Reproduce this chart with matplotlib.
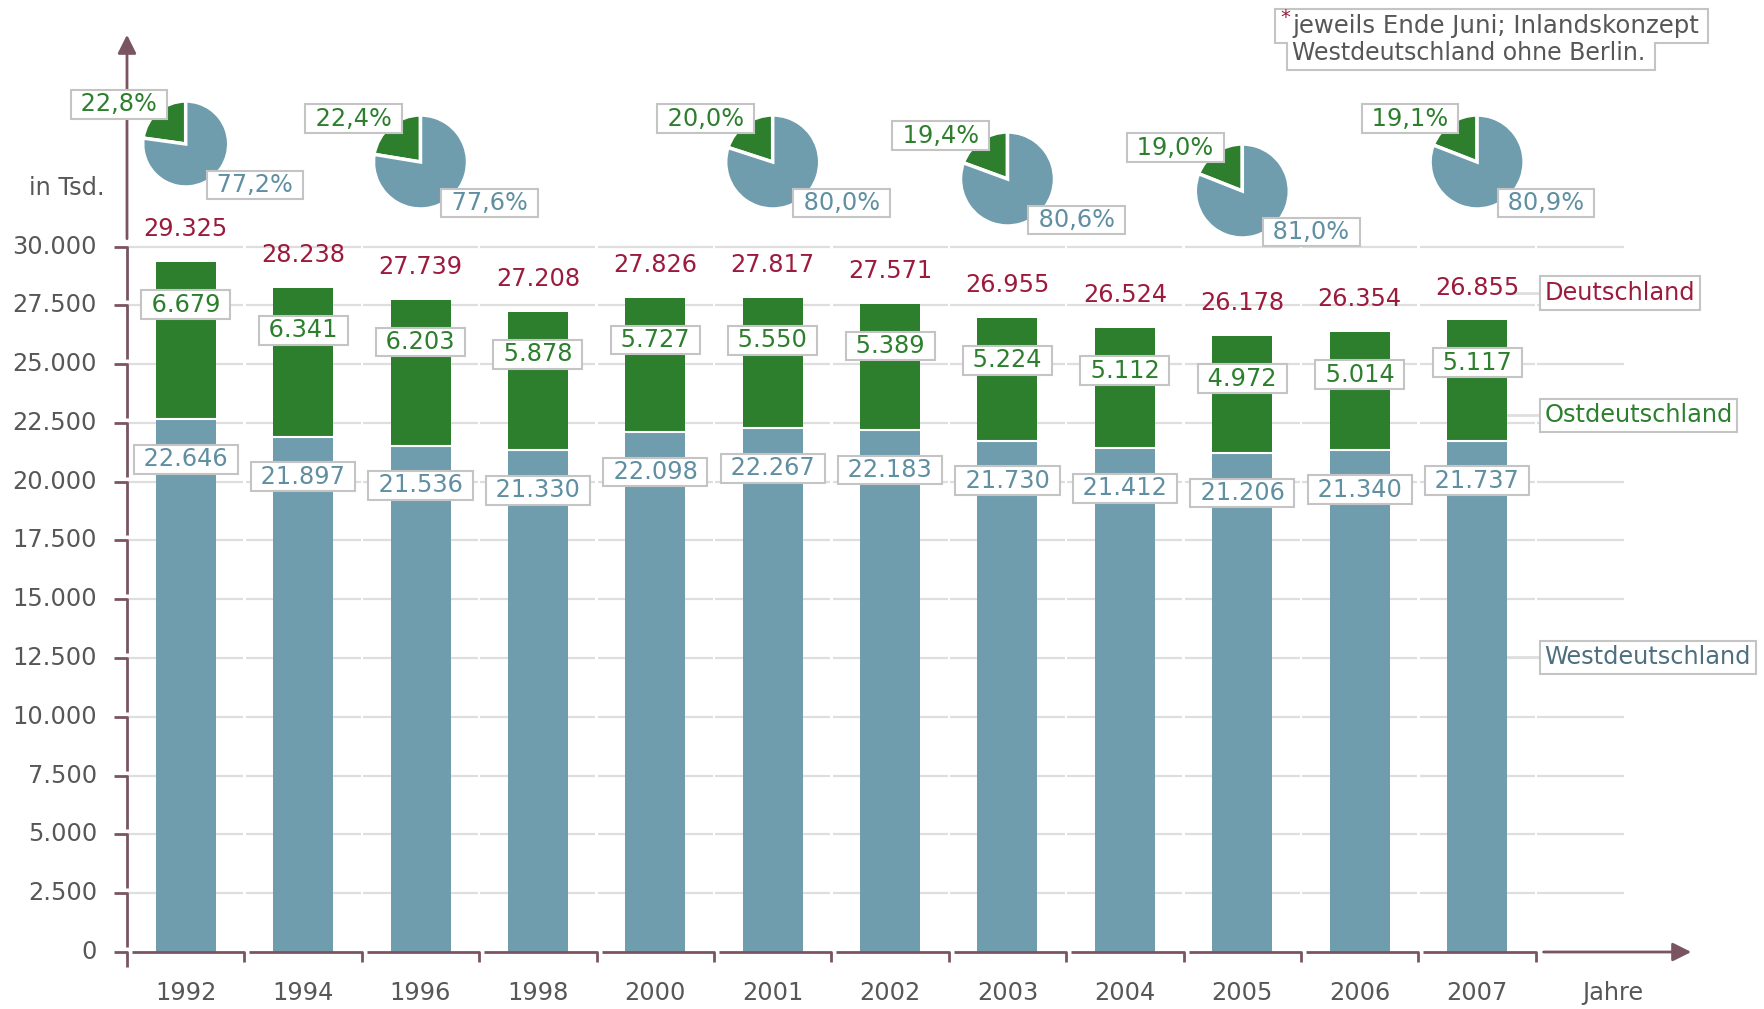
import matplotlib
matplotlib.use("Agg")
from matplotlib import pyplot as plt
from matplotlib.patches import Polygon

# --- data ---
years = ['1992', '1994', '1996', '1998', '2000', '2001',
         '2002', '2003', '2004', '2005', '2006', '2007']
west = [22646, 21897, 21536, 21330, 22098, 22267, 22183, 21730, 21412, 21206, 21340, 21737]
east = [6679, 6341, 6203, 5878, 5727, 5550, 5389, 5224, 5112, 4972, 5014, 5117]
total = [29325, 28238, 27739, 27208, 27826, 27817, 27571, 26955, 26524, 26178, 26354, 26855]

pie_years = ['1992', '1996', '2001', '2003', '2005', '2007']
pie_east = [22.8, 22.4, 20.0, 19.4, 19.0, 19.1]
pie_west = [77.2, 77.6, 80.0, 80.6, 81.0, 80.9]

yticks = [0, 2500, 5000, 7500, 10000, 12500, 15000, 17500, 20000, 22500, 25000, 27500, 30000]

series_names = ['Deutschland', 'Ostdeutschland', 'Westdeutschland']
note_lines = ['jeweils Ende Juni; Inlandskonzept', 'Westdeutschland ohne Berlin.']

# --- style ---
c_west = '#6f9dad'
c_east = '#2d7f2e'
c_total = '#9c1b3d'
c_west_txt = '#5f8fa1'
c_west_name = '#4d6f7f'
c_axis = '#7a5561'
c_grid = '#dedede'
c_text = '#575757'
c_box = '#c4c4c4'
fs = 17.3


def fmt(v):
    return f'{v:,}'.replace(',', '.')


def pct(v):
    return f'{v:.1f}'.replace('.', ',') + '%'


W, H = 1765, 1009
fig = plt.figure(figsize=(W / 100, H / 100), dpi=100)


def fx(px):
    return px / W


def fy(py):
    return 1 - py / H


# layout in pixels of the reference
x0, x_end = 127, 1694
y0, y_top = 952, 32
slot = 117.4
ppu = (952 - 246.5) / 30000  # pixel per unit

ax = fig.add_axes([fx(x0), fy(y0), fx(x_end) - fx(x0), fy(y_top) - fy(y0)])
xmax = (x_end - x0) / slot
ymax = (y0 - y_top) / ppu
ax.set_xlim(0, xmax)
ax.set_ylim(0, ymax)
ax.axis('off')

gx = 5 / slot
gy = 5 / ppu
tick_x = 13 / slot
tick_y = 10 / ppu

# grid lines, split per slot
gg = 2.5 / slot
for v in yticks[1:]:
    for i in range(13):
        end = i + 1 - gg / 2 if i < 12 else 12.75
        ax.plot([i + gg / 2, end], [v, v], color=c_grid, lw=1.6, zorder=1,
                solid_capstyle='butt')

xc = [i + 0.5 for i in range(len(years))]
bw = 60 / slot
ax.bar(xc, west, width=bw, color=c_west, zorder=3)
ax.bar(xc, east, width=bw, bottom=west, color=c_east, zorder=3)
ax.hlines(west, [x - bw / 2 for x in xc], [x + bw / 2 for x in xc], color='white', lw=1.5, zorder=4)

# axes drawn by hand
ak = dict(color=c_axis, lw=2, clip_on=False, zorder=5, solid_capstyle='butt')
for i in range(12):
    ax.plot([i + gx, i + 1, i + 1], [0, 0, -tick_y], **ak)
ax.annotate('', xy=(xmax, 0), xytext=(12 + gx, 0),
            arrowprops=dict(arrowstyle='-|>', color=c_axis, lw=2, mutation_scale=28),
            annotation_clip=False)
ax.plot([-tick_x, 0, 0], [0, 0, -15 / ppu], **ak)
for k in range(1, len(yticks)):
    v = yticks[k]
    ax.plot([-tick_x, 0, 0], [v, v, yticks[k - 1] + gy], **ak)
ax.annotate('', xy=(0, ymax), xytext=(0, 30000 + gy),
            arrowprops=dict(arrowstyle='-|>', color=c_axis, lw=2, mutation_scale=28),
            annotation_clip=False)

for v in yticks:
    ax.text(-30 / slot, v, fmt(v), ha='right', va='center', fontsize=fs, color=c_text)
for x, y in zip(xc, years):
    ax.text(x, -41 / ppu, y, ha='center', va='center', fontsize=fs, color=c_text)
ax.text(12.66, -41 / ppu, 'Jahre', ha='center', va='center', fontsize=fs, color=c_text)
ax.text(-60 / slot, (952 - 188) / ppu, 'in Tsd.', ha='center', va='center', fontsize=fs, color=c_text)

box = dict(boxstyle='square,pad=0.1', fc='white', ec=c_box, lw=1.5)
for x, w, e, t in zip(xc, west, east, total):
    ax.text(x, t + 1400, fmt(t), ha='center', va='center', fontsize=fs, color=c_total, zorder=6)
    ax.text(x, t - 1800, ' ' + fmt(e) + ' ', ha='center', va='center', fontsize=fs,
            color=c_east, bbox=box, zorder=6)
    ax.text(x, w - 1690, ' ' + fmt(w) + ' ', ha='center', va='center', fontsize=fs,
            color=c_west_txt, bbox=box, zorder=6)

# series labels on the right
name_y = [28033, 22820, 12525]
name_c = [c_total, c_east, c_west_name]
name_box = dict(boxstyle='square,pad=0.2', fc='white', ec=c_box, lw=1.5)
for name, y, c in zip(series_names, name_y, name_c):
    ax.plot([xc[-1] + bw / 2, 12.03], [y, y], color=c_grid, lw=2, zorder=2)
    ax.text(12.03 + 5 / slot, y, name, ha='left', va='center', fontsize=fs, color=c,
            bbox=name_box, zorder=6, clip_on=False)

# pies
pie_cy = [144, 162, 162, 179, 191, 162]
for yr, pe, pw, cy in zip(pie_years, pie_east, pie_west, pie_cy):
    i = years.index(yr)
    cx = x0 + slot * (i + 0.5)
    r = 43 if i == 0 else 47
    pax = fig.add_axes([fx(cx - r), fy(cy + r), 2 * r / W, 2 * r / H])
    pax.pie([pe, pw], colors=[c_east, c_west], startangle=90, counterclock=True,
            wedgeprops=dict(edgecolor='white', linewidth=2.5))
    pax.set_xlim(-1, 1)
    pax.set_ylim(-1, 1)
    pax.set_aspect('equal')
    fig.text(fx(cx - 67), fy(cy - 0.92 * r), ' ' + pct(pe) + ' ', ha='center', va='center',
             fontsize=fs, color=c_east, bbox=box, zorder=10)
    fig.text(fx(cx + 69), fy(cy + 41), ' ' + pct(pw) + ' ', ha='center', va='center',
             fontsize=fs, color=c_west_txt, bbox=box, zorder=10)

# note box top right
pts = [(1275, 9), (1708, 9), (1708, 43), (1655, 43), (1655, 70), (1287, 70), (1287, 43), (1275, 43)]
fig.add_artist(Polygon([(fx(a), fy(b)) for a, b in pts], closed=True, fc='white',
                       ec=c_box, lw=1.5, transform=fig.transFigure))
fig.text(fx(1280), fy(17), '*', ha='left', va='center', fontsize=14, color=c_total)
fig.text(fx(1292), fy(26), note_lines[0], ha='left', va='center', fontsize=17.6, color=c_text)
fig.text(fx(1292), fy(53), note_lines[1], ha='left', va='center', fontsize=17.0, color=c_text)

fig.savefig('out.png', dpi=100)
